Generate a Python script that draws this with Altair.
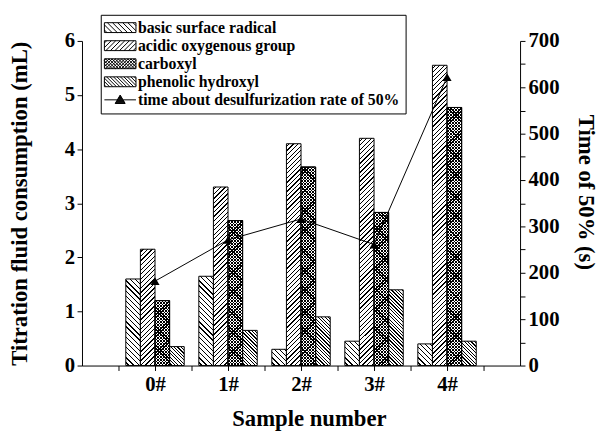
import json
import altair as alt

# ---------------- data ----------------
samples = ["0#", "1#", "2#", "3#", "4#"]
series = ["basic surface radical", "acidic oxygenous group", "carboxyl", "phenolic hydroxyl"]
line_name = "time about desulfurization rate of 50%"

basic = [1.60, 1.65, 0.30, 0.45, 0.40]
acidic = [2.15, 3.30, 4.10, 4.20, 5.55]
carboxyl = [1.20, 2.68, 3.67, 2.83, 4.77]
phenolic = [0.35, 0.65, 0.90, 1.40, 0.45]
time50 = [182, 271, 316, 261, 622]

# ---------------- layout / style ----------------
W, H = 444, 329
X_DOM = [-1, 5]
Y_DOM = [0, 6]
T_DOM = [0, 700]
FONT = "Liberation Serif"
BAR_W = 0.2
PX_X = W / (X_DOM[1] - X_DOM[0])
PX_Y = H / (Y_DOM[1] - Y_DOM[0])
LW = 1.3  # hatch line thickness (measured along the horizontal)

patterns = {
    "basic surface radical": [("back", 5.2)],
    "acidic oxygenous group": [("fwd", 4.6)],
    "carboxyl": [("back", 3.2), ("fwd", 3.2)],
    "phenolic hydroxyl": [("back", 3.5)],
}


def stripes(w, h, direction, period, lw, bg):
    """45-degree stripe fill as a hard-stop linear gradient (bounding-box units)."""
    S = w + h
    m = S / (w * w + h * h)
    if direction == "back":  # lines like "\"
        x1, y1, x2, y2 = 0, 1, m * w, 1 - m * h
    else:  # lines like "/"
        x1, y1, x2, y2 = 0, 0, m * w, m * h
    stops = [{"offset": 0, "color": bg}]
    s = period * 0.5
    while s < S:
        a = round(s / S, 5)
        b = round(min((s + lw) / S, 1.0), 5)
        stops += [
            {"offset": a, "color": bg},
            {"offset": a, "color": "black"},
            {"offset": b, "color": "black"},
            {"offset": b, "color": bg},
        ]
        s += period
    stops.append({"offset": 1, "color": bg})
    return {"gradient": "linear", "x1": x1, "y1": y1, "x2": round(x2, 5),
            "y2": round(y2, 5), "stops": stops}


values_by_series = [basic, acidic, carboxyl, phenolic]
base_rows, over_rows = [], []
for k, name in enumerate(series):
    for i, v in enumerate(values_by_series[k]):
        x0 = i - 2 * BAR_W + k * BAR_W
        w_px, h_px = BAR_W * PX_X, v * PX_Y
        pats = patterns[name]
        base_rows.append({"sample": samples[i], "series": name, "x0": x0, "x1": x0 + BAR_W,
                          "value": v, "fill": stripes(w_px, h_px, pats[0][0], pats[0][1], LW, "white")})
        for d, p in pats[1:]:
            over_rows.append({"sample": samples[i], "series": name, "x0": x0, "x1": x0 + BAR_W,
                              "value": v, "fill": stripes(w_px, h_px, d, p, LW, "rgba(0,0,0,0)")})

line_rows = [{"sample": s, "x": i, "t": t} for i, (s, t) in enumerate(zip(samples, time50))]


# ---------------- legend swatches as custom symbol paths ----------------
R = 6.0  # px per path unit for symbolSize 144


def f(v):
    return f"{v:.3f}".rstrip("0").rstrip(".")


def swatch_path(pats, hw_px=16.0, hh_px=5.0):
    hw, hh = hw_px / R, hh_px / R
    segs = [f"M{f(-hw)},{f(-hh)}L{f(hw)},{f(-hh)}", f"M{f(hw)},{f(-hh)}L{f(hw)},{f(hh)}",
            f"M{f(hw)},{f(hh)}L{f(-hw)},{f(hh)}", f"M{f(-hw)},{f(hh)}L{f(-hw)},{f(-hh)}"]
    for d, p in pats:
        sp = p / R
        c = -hw - hh + sp * 0.5
        while c < hw + hh:
            if d == "back":
                ylo, yhi = max(-hh, -hw - c), min(hh, hw - c)
                if yhi > ylo:
                    segs.append(f"M{f(ylo + c)},{f(ylo)}L{f(yhi + c)},{f(yhi)}")
            else:
                ylo, yhi = max(-hh, c - hw), min(hh, c + hw)
                if yhi > ylo:
                    segs.append(f"M{f(c - ylo)},{f(ylo)}L{f(c - yhi)},{f(yhi)}")
            c += sp
    return "".join(segs)


def line_symbol_path(hw_px=16.0, tri_hw_px=5.0, tri_top_px=-4.8, tri_bot_px=3.6):
    hw, thw = hw_px / R, tri_hw_px / R
    top, bot = tri_top_px / R, tri_bot_px / R
    segs = [f"M{f(-hw)},0L{f(-thw * 0.6)},0", f"M{f(thw * 0.6)},0L{f(hw)},0",
            f"M0,{f(top)}L{f(thw)},{f(bot)}L{f(-thw)},{f(bot)}L0,{f(top)}"]
    y = top
    step = 0.6 / R
    while y <= bot:
        half = thw * (y - top) / (bot - top)
        segs.append(f"M{f(-half)},{f(y)}L{f(half)},{f(y)}")
        y += step
    return "".join(segs)


legend_items = series + [line_name]
legend_paths = [swatch_path(patterns[s]) for s in series] + [line_symbol_path()]

# ---------------- scales / axes ----------------
x_scale = alt.Scale(domain=X_DOM, nice=False, zero=False)
y_scale = alt.Scale(domain=Y_DOM, nice=False)
t_scale = alt.Scale(domain=T_DOM, nice=False)

x_label_expr = ("datum.value % 1 || datum.value < 0 || datum.value > " + str(len(samples) - 1)
                + " ? '' : " + json.dumps(samples) + "[datum.value]")
x_axis = alt.Axis(values=[i * 0.5 for i in range(-1, 10)], labelExpr=x_label_expr,
                  title="Sample number", titleX=230, titleY=61, titleBaseline="alphabetic",
                  tickSize=5, labelPadding=3, labelFlush=False)
y_axis = alt.Axis(values=[i * 0.5 for i in range(13)], format="d",
                  labelExpr="datum.value % 1 ? '' : datum.label",
                  title="Titration fluid consumption (mL)", titleAngle=270, titleX=-56,
                  titleY=164.5, titleBaseline="alphabetic", tickSize=5, labelPadding=2.5)
t_axis = alt.Axis(values=list(range(0, 701, 50)), orient="right",
                  labelExpr="datum.value % 100 ? '' : datum.label",
                  title="Time of 50% (s)", titleAngle=90, titleX=59, titleY=153,
                  titleBaseline="alphabetic", tickSize=5, labelPadding=3)

# ---------------- layers ----------------
bars = alt.Chart(alt.Data(values=base_rows)).mark_bar(stroke="black", strokeWidth=1).encode(
    x=alt.X("x0:Q", scale=x_scale, axis=x_axis),
    x2="x1:Q",
    y=alt.Y("value:Q", scale=y_scale, axis=y_axis),
    y2=alt.datum(0),
    fill=alt.Fill("fill:N", scale=None, legend=None),
)
bars_over = alt.Chart(alt.Data(values=over_rows)).mark_bar(stroke="black", strokeWidth=1).encode(
    x=alt.X("x0:Q", scale=x_scale, axis=x_axis),
    x2="x1:Q",
    y=alt.Y("value:Q", scale=y_scale, axis=y_axis),
    y2=alt.datum(0),
    fill=alt.Fill("fill:N", scale=None, legend=None),
)
legend_layer = alt.Chart(alt.Data(values=[{"item": s} for s in legend_items])).mark_point(
    filled=False, color="black", strokeWidth=1, opacity=1
).encode(
    shape=alt.Shape("item:N", scale=alt.Scale(domain=legend_items, range=legend_paths),
                    legend=alt.Legend(title=None, orient="none", legendX=19, legendY=-26.5,
                                      direction="vertical", strokeColor="black", fillColor="white",
                                      padding=5, symbolSize=144, symbolOffset=6.7, labelOffset=10,
                                      labelFont=FONT, labelFontSize=16, labelFontWeight="bold",
                                      labelColor="black", rowPadding=2.3, labelLimit=0,
                                      symbolStrokeColor="black", symbolStrokeWidth=1,
                                      symbolOpacity=1))
).transform_filter("false")

left = alt.layer(bars, bars_over, legend_layer)

line = alt.Chart(alt.Data(values=line_rows)).mark_line(color="black", strokeWidth=1).encode(
    x=alt.X("x:Q", scale=x_scale, axis=x_axis),
    y=alt.Y("t:Q", scale=t_scale, axis=t_axis),
)
pts = alt.Chart(alt.Data(values=line_rows)).mark_point(
    shape="triangle-up", filled=True, color="black", size=85, opacity=1
).encode(
    x=alt.X("x:Q", scale=x_scale, axis=x_axis),
    y=alt.Y("t:Q", scale=t_scale, axis=t_axis),
)
right = alt.layer(line, pts)

chart = alt.layer(left, right).resolve_scale(y="independent").properties(
    width=W, height=H,
    autosize=alt.AutoSizeParams(type="none"),
    padding={"left": 75, "top": 30.5, "right": 79, "bottom": 66.5},
).configure_axis(
    labelFont=FONT, titleFont=FONT, labelFontWeight="bold", titleFontWeight="bold",
    labelFontSize=21, titleFontSize=23, labelColor="black", titleColor="black",
    domainColor="black", tickColor="black", domainWidth=1, tickWidth=1, grid=False,
    labelOverlap=False,
).configure_legend(
    labelFont=FONT, labelFontWeight="bold", labelFontSize=16, labelColor="black",
).configure_view(stroke=None)

chart.save("out.html", embed_options={"renderer": "svg", "actions": False})
